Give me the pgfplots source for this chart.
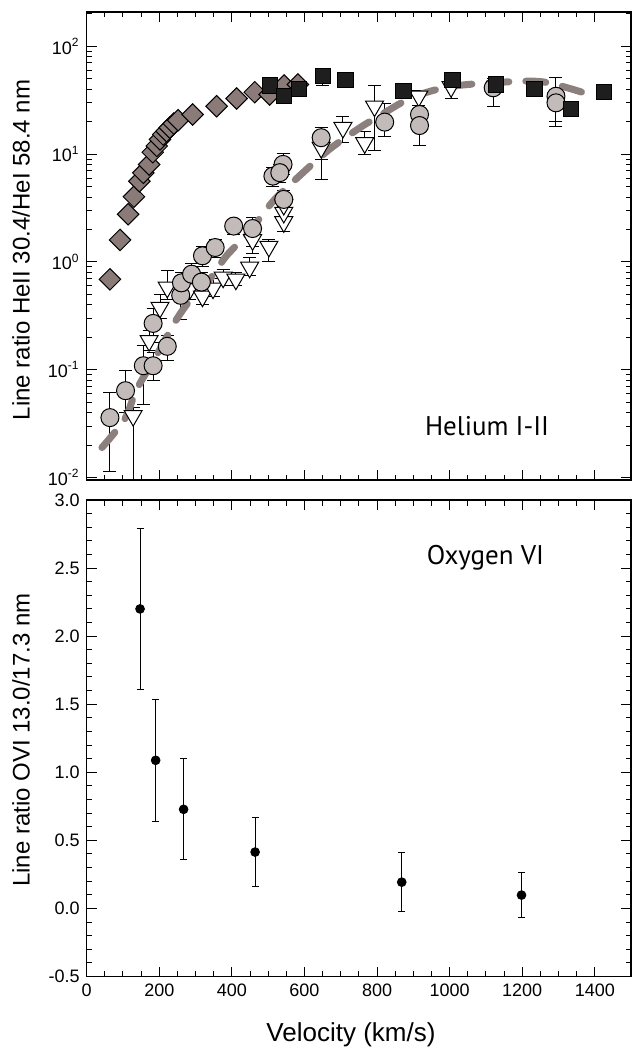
\documentclass[border=0pt]{standalone}
\usepackage{fontspec}
\setmainfont{Liberation Sans}
\newfontfamily\panelfont{PT Sans}
\usepackage{pgfplots}
\pgfplotsset{compat=1.18}

\definecolor{diamondfill}{RGB}{138,123,121}
\definecolor{circlefill}{RGB}{195,187,185}
\definecolor{dashgray}{RGB}{140,128,126}
\definecolor{squarefill}{RGB}{30,30,30}

\pgfplotsset{
  panel/.style={
    scale only axis,
    width=272.2pt,
    xmin=0, xmax=1500,
    xtick={0,200,...,1400},
    minor x tick num=3,
    tick align=inside,
    major tick length=5pt,
    minor tick length=2.75pt,
    tick style={line width=0.5pt, black},
    axis line style={line width=0.7pt},
    tick label style={font=\fontsize{9}{10}\selectfont},
    /pgf/number format/assume math mode=true,
    /pgf/number format/1000 sep={},
  },
  errs/.style={
    error bars/y dir=both,
    error bars/y explicit,
    error bars/error bar style={line width=0.5pt, black},
    error bars/error mark options={rotate=90, mark size=#1, line width=0.5pt, black},
  },
}

\begin{document}
\begin{tikzpicture}
\useasboundingbox (0pt,0pt) rectangle (315.5pt,-526pt);

% upper panel: He II / He I
\begin{axis}[panel,
  at={(43.35pt,-240pt)}, anchor=south west,
  height=234pt,
  ymode=log, ymin=0.0095, ymax=208,
  ytick={0.01,0.1,1,10,100},
  yticklabels={10\textsuperscript{-2},10\textsuperscript{-1},10\textsuperscript{0},10\textsuperscript{1},10\textsuperscript{2}},
  minor ytick={0.02,0.03,0.04,0.05,0.06,0.07,0.08,0.09,
               0.2,0.3,0.4,0.5,0.6,0.7,0.8,0.9,
               2,3,4,5,6,7,8,9,20,30,40,50,60,70,80,90,200},
  xticklabels={},
]
% diamonds
\addplot[only marks, mark=square*, mark size=3.8pt,
  mark options={rotate=45, fill=diamondfill, draw=black, line width=0.5pt}]
  coordinates {
  (64,0.69) (92,1.6) (114,2.77) (130,4.03) (145,5.6) (156,6.7) (172,8.0)
  (182,10.4) (193,11.9) (202,13.7) (211,15.2) (220,16.3) (229,17.6)
  (240,19.2) (252,20.6) (292,23.3) (358,27.8) (413,32.8) (463,37.5)
  (504,35.7) (544,43.3) (582,44.2)
  };
% open triangles
\addplot[only marks, mark=triangle*, mark size=5.2pt,
  mark options={rotate=180, fill=white, draw=black, line width=0.5pt},
  errs=3.25pt]
  coordinates {
  (128,0.0375) += (0,0.0075) -= (0,0.0335)
  (172,0.186) += (0,0.044) -= (0,0.036)
  (202,0.378) += (0,0.12) -= (0,0.078)
  (222,0.58) += (0,0.25) -= (0,0.13)
  (284,0.56) += (0,0.14) -= (0,0.11)
  (319,0.48) += (0,0.12) -= (0,0.08)
  (348,0.57) += (0,0.13) -= (0,0.09)
  (376,0.72) += (0,0.13) -= (0,0.12)
  (411,0.69) += (0,0.11) -= (0,0.09)
  (449,0.89) += (0,0.21) -= (0,0.14)
  (457,1.6) += (0,0.3) -= (0,0.4)
  (502,1.39) += (0,0.21) -= (0,0.37)
  (543,2.35) += (0,0.55) -= (0,0.45)
  (543,2.87) += (0,0.43) -= (0,0.47)
  (543,3.4) += (0,0.5) -= (0,0.5)
  (646,11.5) += (0,2.5) -= (0,2.5)
  (706,17.6) += (0,4.6) -= (0,4.9)
  (766,12.7) += (0,3.6) -= (0,2.7)
  (793,27.8) += (0,15.5) -= (0,16.9)
  (915,34.4) += (0,4.8) -= (0,6.4)
  (1004,42) += (0,3) -= (0,9.4)
  };
% grey circles
\addplot[only marks, mark=*, mark size=4.5pt,
  mark options={fill=circlefill, draw=black, line width=0.5pt},
  errs=3.25pt]
  coordinates {
  (64,0.036) += (0,0.026) -= (0,0.0246)
  (107,0.064) += (0,0.034) -= (0,0.024)
  (156,0.109) += (0,0.058) -= (0,0.061)
  (183,0.109) += (0,0.035) -= (0,0.030)
  (222,0.165) += (0,0.041) -= (0,0.044)
  (183,0.269) += (0,0.101) -= (0,0.089)
  (259,0.49) += (0,0.11) -= (0,0.195)
  (261,0.64) += (0,0.16) -= (0,0.14)
  (289,0.77) += (0,0.2) -= (0,0.17)
  (316,0.65) += (0,0.15) -= (0,0.15)
  (319,1.14) += (0,0.26) -= (0,0.24)
  (354,1.36) += (0,0.26) -= (0,0.26)
  (405,2.15) += (0,0.35) -= (0,0.35)
  (457,2.04) += (0,0.56) -= (0,0.64)
  (513,6.25) += (0,1.25) -= (0,1.25)
  (541,8.03) += (0,2.07) -= (0,1.53)
  (532,6.73) += (0,1.27) -= (0,1.23)
  (543,3.8) += (0,0.8) -= (0,0.8)
  (646,14.2) += (0,3.4) -= (0,8.4)
  (821,19.8) += (0,9.7) -= (0,5.1)
  (917,23.3) += (0,15) -= (0,5.3)
  (917,18.4) += (0,3.6) -= (0,6.5)
  (1120,41.2) += (0,8.8) -= (0,13.7)
  (1293,34.4) += (0,16.6) -= (0,16.4)
  (1293,29.9) += (0,6.1) -= (0,9.7)
  };
% dashed model curve
\addplot[dashgray, line width=3.5pt, line cap=round, smooth,
  dash pattern=on 10pt off 8.5pt]
  coordinates {
  (42,0.019) (105,0.035) (138,0.066) (202,0.155) (248,0.295) (293,0.48)
  (339,0.69) (385,1.14) (445,1.85) (514,3.67) (591,6.5) (669,11.1)
  (752,17.5) (798,21.7) (894,33.3) (999,42.1) (1128,46.1) (1256,46.8)
  (1385,35.7)
  };
% black squares
\addplot[only marks, mark=square*, mark size=3.8pt,
  mark options={fill=squarefill, draw=black, line width=0.5pt},
  errs=3.25pt]
  coordinates {
  (504,43.3) += (0,4) -= (0,4)
  (544,34.4) += (0,3) -= (0,3)
  (585,40.3) += (0,4) -= (0,4)
  (650,53.2) += (0,5) -= (0,9.9)
  (713,48.4) += (0,4) -= (0,5)
  (873,38.3) += (0,3) -= (0,3)
  (1008,48.4) += (0,4) -= (0,4)
  (1128,44.2) += (0,5) -= (0,5)
  (1234,40.3) += (0,3) -= (0,3)
  (1334,26.3) += (0,2) -= (0,2)
  (1426,37.5) += (0,3) -= (0,3)
  };
\end{axis}

% lower panel: O VI
\begin{axis}[panel,
  at={(43.35pt,-488.25pt)}, anchor=south west,
  height=238.25pt,
  ymin=-0.5, ymax=3,
  ytick={-0.5,0,0.5,1,1.5,2,2.5,3},
  minor y tick num=4,
  yticklabel style={/pgf/number format/.cd, fixed, fixed zerofill, precision=1},
]
\addplot[only marks, mark=*, mark size=2.2pt, black,
  errs=1.75pt]
  coordinates {
  (147,2.20) +- (0,0.59)
  (190,1.088) +- (0,0.45)
  (267,0.728) +- (0,0.37)
  (464,0.414) +- (0,0.253)
  (868,0.193) +- (0,0.216)
  (1198,0.098) +- (0,0.164)
  };
\end{axis}

\node[rotate=90, font=\fontsize{12}{14}\selectfont] at (10.5pt,-125pt) {Line ratio HeII 30.4/HeI 58.4 nm};
\node[rotate=90, font=\fontsize{12}{14}\selectfont] at (10.5pt,-370pt) {Line ratio OVI 13.0/17.3 nm};
\node[font=\fontsize{13}{15}\selectfont] at (175.5pt,-517.5pt) {Velocity (km/s)};
\node[font=\panelfont\fontsize{13.5}{15}\selectfont] at (243.5pt,-213pt) {Helium I-II};
\node[font=\panelfont\fontsize{13.5}{15}\selectfont] at (242.75pt,-279pt) {Oxygen VI};
\end{tikzpicture}
\end{document}
